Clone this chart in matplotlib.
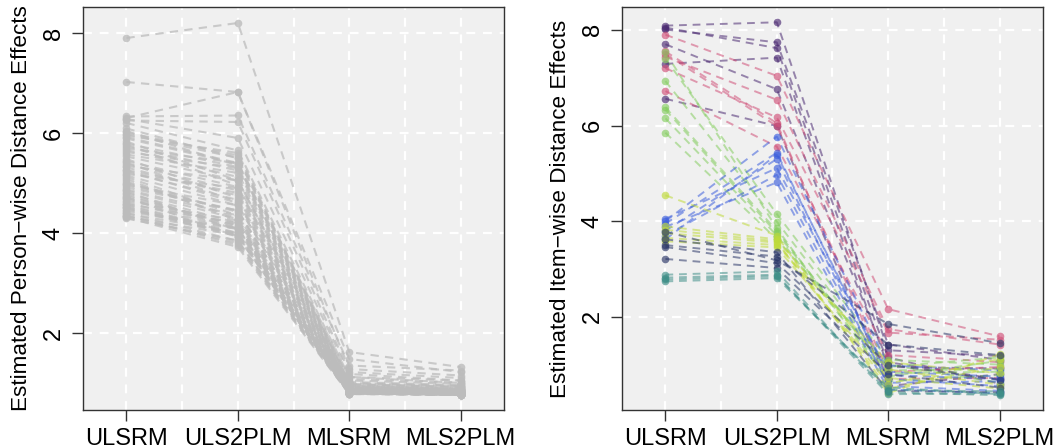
import matplotlib
matplotlib.use("Agg")
import matplotlib.pyplot as plt
import numpy as np

plt.rcParams['font.family'] = ['Liberation Sans', 'DejaVu Sans']

models = ["ULSRM", "ULS2PLM", "MLSRM", "MLS2PLM"]

# person-wise distance effects, one entry per person
person_ulsrm = [5.12, 4.46, 5.83, 4.91, 4.33, 5.57, 6.04, 4.72, 5.26, 4.58,
                5.95, 4.39, 5.41, 4.83, 5.69, 4.29, 5.03, 4.64, 5.48, 4.97,
                5.77, 4.51, 5.18, 6.09, 4.36, 5.34, 4.77, 5.62, 4.43, 5.08,
                4.87, 5.89, 4.55, 5.22, 4.68, 5.73, 4.31, 5.44, 4.95, 6.01,
                4.61, 5.15, 4.80, 5.53, 4.49, 5.31, 4.74, 5.98, 4.40, 5.66,
                5.00, 4.85, 5.38, 4.57, 5.79, 4.34, 5.25, 4.70, 5.92, 4.52,
                7.90, 7.02, 6.33, 6.30, 6.25, 6.28, 6.20]
person_uls2plm = [4.35, 4.10, 5.05, 4.45, 3.95, 5.20, 5.35, 3.92, 4.80, 4.20,
                  5.60, 4.00, 4.62, 4.05, 5.40, 3.85, 4.30, 4.25, 4.70, 4.55,
                  4.95, 3.95, 4.90, 5.50, 3.76, 5.05, 4.12, 5.30, 4.08, 4.25,
                  4.35, 5.38, 3.98, 4.66, 4.10, 5.25, 3.72, 4.92, 4.45, 5.55,
                  4.08, 4.55, 4.20, 5.05, 3.93, 4.75, 4.15, 5.50, 3.84, 5.12,
                  4.42, 4.28, 4.85, 4.00, 5.32, 3.80, 4.60, 4.16, 5.40, 3.96,
                  8.20, 6.82, 6.35, 6.82, 6.22, 5.90, 5.65]
person_mlsrm = [0.86, 0.81, 0.95, 0.84, 0.79, 0.90, 1.05, 0.83, 0.88, 0.80,
                1.00, 0.80, 0.87, 0.82, 0.93, 0.78, 0.85, 0.81, 0.89, 0.84,
                0.97, 0.80, 0.86, 1.12, 0.79, 0.88, 0.82, 0.92, 0.80, 0.85,
                0.83, 0.98, 0.81, 0.87, 0.82, 0.94, 0.78, 0.90, 0.84, 1.02,
                0.81, 0.86, 0.83, 0.91, 0.80, 0.88, 0.82, 0.99, 0.79, 0.93,
                0.85, 0.83, 0.89, 0.80, 0.96, 0.79, 0.87, 0.81, 1.08, 0.80,
                1.62, 1.48, 1.35, 1.28, 1.22, 1.18, 1.12]
person_mls2plm = [0.82, 0.78, 0.90, 0.80, 0.77, 0.86, 0.98, 0.79, 0.84, 0.78,
                  0.94, 0.77, 0.83, 0.79, 0.88, 0.76, 0.81, 0.78, 0.85, 0.80,
                  0.92, 0.77, 0.82, 1.05, 0.76, 0.84, 0.79, 0.87, 0.77, 0.81,
                  0.80, 0.93, 0.78, 0.83, 0.79, 0.89, 0.76, 0.86, 0.80, 0.96,
                  0.78, 0.82, 0.80, 0.87, 0.77, 0.84, 0.79, 0.94, 0.76, 0.88,
                  0.81, 0.80, 0.85, 0.77, 0.91, 0.76, 0.83, 0.78, 1.01, 0.77,
                  1.32, 1.22, 1.25, 1.15, 1.10, 1.05, 1.00]

# item-wise distance effects, one entry per item, with its group
item_group = ["purple"] * 6 + ["pink"] * 6 + ["green"] * 7 + ["blue"] * 7 + \
             ["yellow"] * 6 + ["navy"] * 5 + ["teal"] * 4
item_ulsrm = [8.09, 8.01, 7.70, 7.29, 6.56, 8.05,
              7.90, 7.44, 7.20, 6.72, 7.50, 7.55,
              7.40, 6.93, 6.38, 6.15, 5.85, 6.33, 7.53,
              4.00, 3.95, 3.80, 4.05, 3.70, 3.88, 3.62,
              4.54, 3.89, 3.75, 3.65, 3.58, 3.82,
              3.50, 3.46, 3.21, 3.62, 3.78,
              2.88, 2.82, 2.78, 2.74]
item_uls2plm = [8.16, 7.74, 6.76, 7.42, 5.99, 7.62,
                7.04, 6.54, 6.17, 5.56, 5.99, 6.05,
                4.15, 3.99, 3.80, 3.70, 3.62, 3.75, 3.85,
                5.77, 5.43, 5.30, 5.11, 4.97, 4.81, 5.39,
                3.70, 3.62, 3.55, 3.50, 3.45, 3.58,
                3.26, 3.12, 3.02, 3.35, 3.18,
                2.95, 2.88, 2.85, 2.81]
item_mlsrm = [1.30, 1.42, 1.05, 0.95, 0.55, 1.15,
              2.16, 1.74, 1.67, 1.20, 0.85, 0.70,
              1.10, 0.95, 0.82, 0.75, 1.00, 0.88, 0.65,
              0.98, 0.70, 0.55, 0.85, 0.62, 0.48, 0.78,
              0.40, 0.90, 0.60, 1.05, 0.72, 0.50,
              1.42, 1.00, 0.80, 0.45, 1.85,
              0.42, 0.38, 0.47, 0.52]
item_mls2plm = [1.18, 1.10, 0.69, 0.92, 0.80, 0.60,
                1.59, 1.42, 1.52, 1.05, 0.95, 0.72,
                1.00, 1.15, 0.85, 1.08, 0.62, 0.90, 0.78,
                0.88, 0.55, 0.45, 0.75, 0.65, 0.40, 0.70,
                1.22, 0.58, 1.12, 0.82, 0.50, 0.95,
                1.20, 0.68, 0.52, 0.42, 1.45,
                0.36, 0.40, 0.44, 0.38]

group_colors = {"purple": "#4b2a72", "pink": "#d05078", "green": "#85cd60",
                "blue": "#3d5fdc", "yellow": "#bfda3a", "navy": "#2b3768",
                "teal": "#3f8f88"}

bg = "#f0f0f0"
x = np.arange(1, 5)


def style_axes(ax, ylim, ylabel, yticks):
    ax.set_facecolor(bg)
    ax.set_xlim(0.61, 4.39)
    ax.set_ylim(*ylim)
    for gx in [1, 1.5, 2, 2.5, 3, 3.5, 4]:
        ax.axvline(gx, color="white", lw=1.6, ls=(0, (4, 3.5)), zorder=0.5)
    for gy in yticks:
        ax.axhline(gy, color="white", lw=1.6, ls=(0, (4, 3.5)), zorder=0.5)
    ax.set_xticks(x)
    ax.set_xticklabels(models, fontsize=17)
    ax.set_yticks(yticks)
    ax.set_yticklabels([str(t) for t in yticks], fontsize=17, rotation=90,
                       va="center")
    ax.tick_params(axis="both", length=8, width=1, color="#333333", pad=5)
    for s in ax.spines.values():
        s.set_color("#333333")
        s.set_linewidth(1)
    ax.set_ylabel(ylabel, fontsize=16.2, labelpad=8)


fig = plt.figure(figsize=(10.56, 4.48), dpi=100)
ax1 = fig.add_axes([0.0786, 0.0848, 0.3987, 0.8996])
ax2 = fig.add_axes([0.589, 0.0848, 0.3987, 0.8996])

dash = (0, (4, 3))
for i in range(len(person_ulsrm)):
    vals = [person_ulsrm[i], person_uls2plm[i], person_mlsrm[i], person_mls2plm[i]]
    ax1.plot(x, vals, color="#bcbcbc", lw=1.5, ls=dash, alpha=0.75, zorder=2)
    ax1.plot(x, vals, "o", color="#bcbcbc", ms=5.5, alpha=0.8, mec="none", zorder=3)
style_axes(ax1, (0.46, 8.52), "Estimated Person\u2212wise Distance Effects", [2, 4, 6, 8])

for i in range(len(item_ulsrm)):
    vals = [item_ulsrm[i], item_uls2plm[i], item_mlsrm[i], item_mls2plm[i]]
    c = group_colors[item_group[i]]
    ax2.plot(x, vals, color=c, lw=1.4, ls=dash, alpha=0.55, zorder=2)
    ax2.plot(x, vals, "o", color=c, ms=5.5, alpha=0.65, mec="none", zorder=3)
style_axes(ax2, (0.05, 8.48), "Estimated Item\u2212wise Distance Effects", [2, 4, 6, 8])

fig.savefig("out.png", dpi=100)
